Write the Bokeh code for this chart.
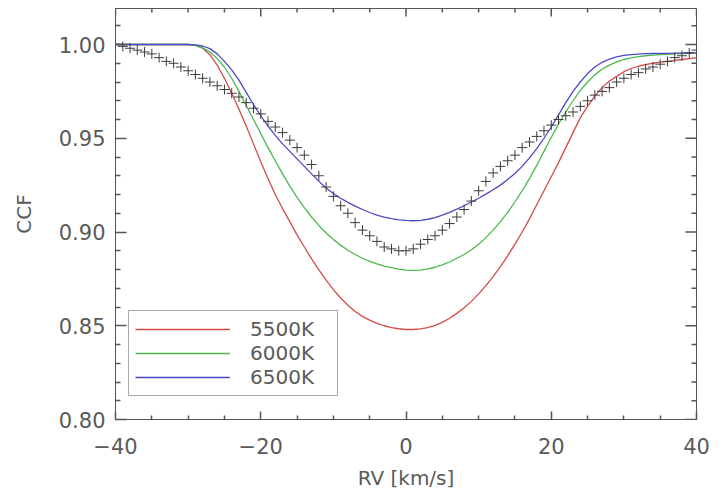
from bokeh.plotting import figure
from bokeh.models import Range1d, FixedTicker, Legend, LegendItem, PrintfTickFormatter
from bokeh.embed import file_html
from bokeh.resources import INLINE

# ---------------- data ----------------
rv = list(range(-40, 41))  # km/s grid

ccf_obs = [1.000, 0.999, 0.998, 0.997, 0.996, 0.995, 0.993, 0.991, 0.990, 0.988,
           0.986, 0.984, 0.982, 0.980, 0.978, 0.976, 0.974, 0.972, 0.969, 0.966,
           0.963, 0.959, 0.956, 0.953, 0.949, 0.945, 0.941, 0.936, 0.930, 0.924,
           0.919, 0.914, 0.910, 0.905, 0.901, 0.898, 0.895, 0.892, 0.891, 0.890,
           0.890, 0.891, 0.8935, 0.896, 0.898, 0.901, 0.9045, 0.908, 0.912, 0.9165,
           0.922, 0.927, 0.9315, 0.935, 0.938, 0.941, 0.945, 0.948, 0.951, 0.954,
           0.957, 0.960, 0.962, 0.964, 0.967, 0.970, 0.973, 0.975, 0.977, 0.980,
           0.982, 0.984, 0.985, 0.987, 0.988, 0.9895, 0.991, 0.993, 0.994, 0.9955,
           0.997]

ccf_5500 = [1.000, 1.000, 1.000, 1.000, 1.000, 1.000, 1.000, 1.000, 1.000, 1.000,
            1.000, 0.9995, 0.998, 0.9945, 0.989, 0.982, 0.974, 0.9655, 0.9565, 0.947,
            0.9375, 0.9285, 0.920, 0.9125, 0.9055, 0.8985, 0.892, 0.8857, 0.8798, 0.8743,
            0.8693, 0.8648, 0.8609, 0.8576, 0.855, 0.853, 0.8513, 0.850, 0.849, 0.8484,
            0.848, 0.848, 0.8483, 0.849, 0.8502, 0.8518, 0.854, 0.8566, 0.8596, 0.863,
            0.867, 0.8714, 0.8762, 0.8815, 0.8873, 0.8935, 0.900, 0.907, 0.9145, 0.922,
            0.9295, 0.937, 0.945, 0.953, 0.961, 0.967, 0.9725, 0.977, 0.9805, 0.983,
            0.9855, 0.9872, 0.9884, 0.9893, 0.990, 0.9906, 0.991, 0.9915, 0.992, 0.9925,
            0.993]

ccf_6000 = [1.000, 1.000, 1.000, 1.000, 1.000, 1.000, 1.000, 1.000, 1.000, 1.000,
            1.000, 0.9995, 0.9982, 0.996, 0.9925, 0.988, 0.982, 0.975, 0.9675, 0.960,
            0.9525, 0.945, 0.938, 0.931, 0.9245, 0.9185, 0.913, 0.908, 0.9035, 0.8995,
            0.896, 0.893, 0.8903, 0.888, 0.886, 0.8843, 0.883, 0.8818, 0.881, 0.8802,
            0.8797, 0.8795, 0.8797, 0.8803, 0.8812, 0.8825, 0.884, 0.886, 0.888, 0.8905,
            0.8935, 0.897, 0.901, 0.9055, 0.9105, 0.916, 0.922, 0.9285, 0.9355, 0.943,
            0.9505, 0.9575, 0.964, 0.970, 0.9755, 0.980, 0.9838, 0.9868, 0.989, 0.9907,
            0.992, 0.9929, 0.9935, 0.994, 0.9943, 0.9946, 0.9948, 0.995, 0.9952, 0.9953,
            0.9955]

ccf_6500 = [1.000, 1.000, 1.000, 1.000, 1.000, 1.000, 1.000, 1.000, 1.000, 1.000,
            1.000, 0.9998, 0.9992, 0.9978, 0.995, 0.991, 0.9865, 0.981, 0.9745, 0.968,
            0.962, 0.9565, 0.9515, 0.947, 0.943, 0.939, 0.935, 0.931, 0.927, 0.9235,
            0.9205, 0.918, 0.9158, 0.9138, 0.912, 0.9104, 0.909, 0.9079, 0.9071, 0.9065,
            0.9062, 0.906, 0.9062, 0.9068, 0.9077, 0.909, 0.9105, 0.9122, 0.914, 0.916,
            0.918, 0.9202, 0.9225, 0.925, 0.928, 0.9312, 0.935, 0.9395, 0.9445, 0.950,
            0.956, 0.9625, 0.969, 0.975, 0.980, 0.9845, 0.988, 0.9905, 0.9922, 0.9934,
            0.9942, 0.9946, 0.9949, 0.9951, 0.9952, 0.9953, 0.9953, 0.9954, 0.9954, 0.9955,
            0.9955]

series_labels = ["5500K", "6000K", "6500K"]
series_colors = ["#d24b4b", "#4cb84c", "#4a4ac8"]

x_min, x_max = -40, 40
y_min, y_max = 0.80, 1.0192
x_major = [-40, -20, 0, 20, 40]
x_minor = [-35, -30, -25, -15, -10, -5, 5, 10, 15, 25, 30, 35]
x_labels = {-40: "\u221240", -20: "\u221220", 0: "0", 20: "20", 40: "40"}
y_major = [0.80, 0.85, 0.90, 0.95, 1.00]
y_minor = [0.81, 0.82, 0.83, 0.84, 0.86, 0.87, 0.88, 0.89, 0.91, 0.92, 0.93, 0.94,
           0.96, 0.97, 0.98, 0.99, 1.01]

# ---------------- figure ----------------
FONT = "DejaVu Sans"
TXT = "#5a5a5a"
AX = "#555555"
FW, FH = 581, 411

p = figure(frame_width=FW, frame_height=FH,
           x_range=Range1d(x_min, x_max), y_range=Range1d(y_min, y_max),
           output_backend="svg", toolbar_location=None,
           min_border_left=115, min_border_right=16, min_border_top=8, min_border_bottom=40,
           x_axis_label="RV [km/s]", y_axis_label="CCF")
p.xgrid.visible = False
p.ygrid.visible = False
p.outline_line_color = AX
p.background_fill_color = "white"
p.border_fill_color = "white"

xa = p.xaxis[0]
xa.ticker = FixedTicker(ticks=x_major, minor_ticks=x_minor)
xa.major_label_overrides = x_labels
ya = p.yaxis[0]
ya.ticker = FixedTicker(ticks=y_major, minor_ticks=y_minor)
ya.formatter = PrintfTickFormatter(format="%.2f")

for ax in (xa, ya):
    ax.axis_line_color = AX
    ax.major_tick_line_color = AX
    ax.minor_tick_line_color = AX
    ax.major_tick_line_width = 1.5
    ax.minor_tick_line_width = 1.5
    ax.major_tick_out = 0
    ax.minor_tick_out = 0
    ax.major_label_text_font = FONT
    ax.major_label_text_font_size = "21px"
    ax.major_label_text_color = TXT
    ax.axis_label_text_font = FONT
    ax.axis_label_text_font_size = "20px"
    ax.axis_label_text_font_style = "normal"
    ax.axis_label_text_color = TXT

xa.major_tick_in = 8
xa.minor_tick_in = 4
ya.major_tick_in = 11
ya.minor_tick_in = 5
xa.major_label_standoff = 18
xa.axis_label_standoff = 9
ya.major_label_standoff = 10
ya.axis_label_standoff = 20

# inward tick marks on the top and right edges, built from the tick lists
px_y = (y_max - y_min) / FH   # data units per pixel, vertical
px_x = (x_max - x_min) / FW   # data units per pixel, horizontal


def top_ticks(xs, length):
    n = len(xs)
    p.segment(x0=xs, y0=[y_max] * n, x1=xs, y1=[y_max - length * px_y] * n,
              line_color=AX, line_width=1.5)


def right_ticks(ys, length):
    n = len(ys)
    p.segment(x0=[x_max] * n, y0=ys, x1=[x_max - length * px_x] * n, y1=ys,
              line_color=AX, line_width=1.5)


top_ticks(x_major, 8)
top_ticks(x_minor, 4)
right_ticks(y_major, 11)
right_ticks(y_minor, 5)

r1 = p.line(rv, ccf_5500, line_color=series_colors[0], line_width=1.3)
r2 = p.line(rv, ccf_6000, line_color=series_colors[1], line_width=1.3)
r3 = p.line(rv, ccf_6500, line_color=series_colors[2], line_width=1.3)
p.scatter(rv, ccf_obs, marker="cross", size=10, line_color="#3c3c3c", line_width=1)

legend = Legend(items=[LegendItem(label=series_labels[0], renderers=[r1]),
                       LegendItem(label=series_labels[1], renderers=[r2]),
                       LegendItem(label=series_labels[2], renderers=[r3])],
                location=(13, 23), padding=6, margin=0, spacing=0,
                glyph_width=95, glyph_height=20, label_height=20, label_width=81,
                label_standoff=20, label_text_font=FONT, label_text_font_size="20px",
                label_text_color=TXT, border_line_color="#555555", border_line_width=1,
                background_fill_color="white", background_fill_alpha=1.0)
p.add_layout(legend)

open("out.html", "w").write(file_html(p, INLINE))
